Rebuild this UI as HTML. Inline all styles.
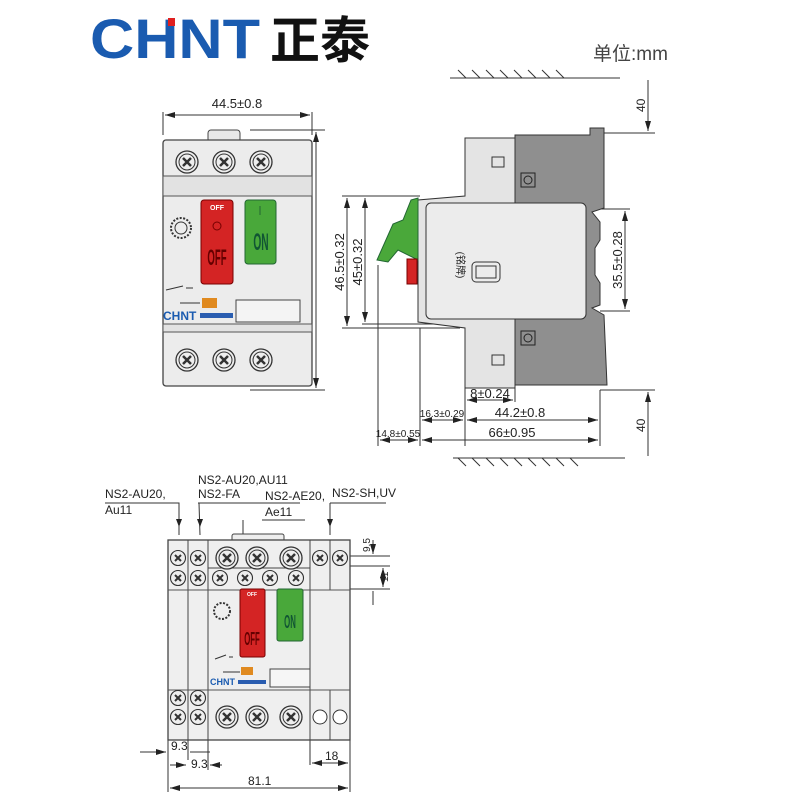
<!DOCTYPE html>
<html><head><meta charset="utf-8"><style>
body{margin:0;background:#fff}
svg{display:block}
text{font-family:"Liberation Sans","Noto Sans CJK SC",sans-serif}
</style></head><body>
<svg width="800" height="800" viewBox="0 0 800 800" xmlns="http://www.w3.org/2000/svg">
<defs>
<marker id="a" markerWidth="10" markerHeight="6" refX="10" refY="3" orient="auto-start-reverse" markerUnits="userSpaceOnUse"><path d="M0,0 L10,3 L0,6z" fill="#222"/></marker>
<g id="scr"><circle r="11" fill="#eee" stroke="#333" stroke-width="1.3"/><circle r="8" fill="none" stroke="#333"/><path d="M-4,-4 L4,4 M-4,4 L4,-4" stroke="#333" stroke-width="2.5"/></g>
<g id="ss"><circle r="7.5" fill="#eee" stroke="#333" stroke-width="1.1"/><path d="M-3,-3 L3,3 M-3,3 L3,-3" stroke="#333" stroke-width="2"/></g>
</defs>
<!-- logo -->
<text x="90" y="58" font-size="56" font-weight="bold" fill="#1a5bb0" textLength="170" lengthAdjust="spacingAndGlyphs">CHNT</text>
<rect x="168" y="18" width="7" height="8" fill="#e02020"/>
<text x="270" y="58" font-size="50" font-weight="bold" fill="#111" font-family="'Noto Sans CJK SC',sans-serif">正泰</text>
<text x="593" y="60" font-size="19" fill="#444">单位:mm</text>

<g stroke="#333" stroke-width="1" fill="none">
<!-- front view dims -->
<line x1="163" y1="112" x2="163" y2="135"/><line x1="312" y1="112" x2="312" y2="135"/>
<line x1="165" y1="115" x2="310" y2="115" marker-start="url(#a)" marker-end="url(#a)"/>
<line x1="250" y1="130" x2="325" y2="130"/><line x1="250" y1="390" x2="325" y2="390"/>
<line x1="316" y1="132" x2="316" y2="388" marker-start="url(#a)" marker-end="url(#a)"/>
</g>
<text x="237" y="108" font-size="13" text-anchor="middle" fill="#222">44.5±0.8</text>
<text transform="translate(308,260) rotate(-90)" font-size="13" text-anchor="middle" fill="#222">91.3±0.7</text>
<!-- front device -->
<rect x="208" y="130" width="32" height="12" rx="3" fill="#e8e8e8" stroke="#444"/>
<rect x="163" y="140" width="149" height="246" rx="3" fill="#ececec" stroke="#444" stroke-width="1.3"/>
<rect x="163" y="176" width="149" height="20" fill="#e2e2e2" stroke="#555"/>
<rect x="163" y="324" width="149" height="8" fill="#e2e2e2" stroke="#555"/>
<use href="#scr" x="187" y="162"/><use href="#scr" x="224" y="162"/><use href="#scr" x="261" y="162"/>
<use href="#scr" x="187" y="360"/><use href="#scr" x="224" y="360"/><use href="#scr" x="261" y="360"/>
<rect x="201" y="200" width="32" height="84" rx="3" fill="#d42424" stroke="#700"/>
<text x="217" y="210" font-size="7" font-weight="bold" fill="#fff" text-anchor="middle">OFF</text>
<circle cx="217" cy="226" r="4" fill="none" stroke="#700"/>
<text transform="translate(217,265) scale(0.6,1.4)" font-size="16" text-anchor="middle" fill="#600" font-weight="bold">OFF</text>
<rect x="245" y="200" width="31" height="64" rx="3" fill="#49a83a" stroke="#263"/>
<line x1="260" y1="206" x2="260" y2="215" stroke="#263"/>
<text transform="translate(261,250) scale(0.6,1.4)" font-size="17" text-anchor="middle" fill="#153" font-weight="bold">ON</text>
<circle cx="181" cy="228" r="10" fill="none" stroke="#333" stroke-dasharray="2,1.5" stroke-width="2"/>
<circle cx="181" cy="228" r="6" fill="none" stroke="#333"/>
<path d="M166,290 L183,286 M186,288 L193,288" stroke="#333" fill="none"/>
<path d="M180,303 L200,303" stroke="#333"/><rect x="202" y="298" width="15" height="10" fill="#e08a20"/>
<text x="163" y="320" font-size="12" font-weight="bold" fill="#1a5bb0">CHNT</text>
<rect x="200" y="313" width="33" height="5" fill="#2a5db0"/>
<rect x="236" y="300" width="64" height="22" fill="#f4f4f4" stroke="#444"/>

<!-- side view -->
<g stroke="#333" stroke-width="1" fill="none">
<line x1="450" y1="78" x2="620" y2="78"/>
<path d="M458,70 l8,8 M472,70 l8,8 M486,70 l8,8 M500,70 l8,8 M514,70 l8,8 M528,70 l8,8 M542,70 l8,8 M556,70 l8,8"/>
<line x1="453" y1="458" x2="625" y2="458"/>
<path d="M458,458 l8,8 M472,458 l8,8 M486,458 l8,8 M500,458 l8,8 M514,458 l8,8 M528,458 l8,8 M542,458 l8,8 M556,458 l8,8 M570,458 l8,8"/>
<line x1="600" y1="133" x2="655" y2="133"/><line x1="600" y1="390" x2="655" y2="390"/>
<line x1="648" y1="80" x2="648" y2="131" marker-end="url(#a)"/>
<line x1="648" y1="392" x2="648" y2="456" marker-start="url(#a)"/>
<line x1="600" y1="209" x2="630" y2="209"/><line x1="600" y1="311" x2="630" y2="311"/>
<line x1="625" y1="211" x2="625" y2="309" marker-start="url(#a)" marker-end="url(#a)"/>
<line x1="342" y1="196" x2="420" y2="196"/><line x1="342" y1="328" x2="460" y2="328"/><line x1="362" y1="324" x2="440" y2="324"/>
<line x1="347" y1="198" x2="347" y2="326" marker-start="url(#a)" marker-end="url(#a)"/>
<line x1="365" y1="198" x2="365" y2="322" marker-start="url(#a)" marker-end="url(#a)"/>
<line x1="378" y1="265" x2="378" y2="446"/><line x1="420" y1="328" x2="420" y2="446"/>
<line x1="465" y1="330" x2="465" y2="446"/><line x1="515" y1="380" x2="515" y2="402"/><line x1="600" y1="390" x2="600" y2="446"/>
<line x1="467" y1="400" x2="513" y2="400" marker-start="url(#a)" marker-end="url(#a)"/>
<line x1="422" y1="420" x2="463" y2="420" marker-start="url(#a)" marker-end="url(#a)"/>
<line x1="467" y1="420" x2="598" y2="420" marker-start="url(#a)" marker-end="url(#a)"/>
<line x1="380" y1="440" x2="418" y2="440" marker-start="url(#a)" marker-end="url(#a)"/>
<line x1="422" y1="440" x2="598" y2="440" marker-start="url(#a)" marker-end="url(#a)"/>
</g>
<text x="645" y="112" font-size="12" fill="#222" transform="rotate(-90,645,112)">40</text>
<text x="645" y="432" font-size="12" fill="#222" transform="rotate(-90,645,432)">40</text>
<text transform="translate(622,260) rotate(-90)" font-size="13" text-anchor="middle" fill="#222">35.5±0.28</text>
<text transform="translate(344,262) rotate(-90)" font-size="13" text-anchor="middle" fill="#222">46.5±0.32</text>
<text transform="translate(362,262) rotate(-90)" font-size="13" text-anchor="middle" fill="#222">45±0.32</text>
<text x="490" y="398" font-size="13" text-anchor="middle" fill="#222">8±0.24</text>
<text x="442" y="417" font-size="10" text-anchor="middle" fill="#222">16.3±0.29</text>
<text x="520" y="417" font-size="13" text-anchor="middle" fill="#222">44.2±0.8</text>
<text x="398" y="437" font-size="10" text-anchor="middle" fill="#222">14.8±0.55</text>
<text x="512" y="437" font-size="13" text-anchor="middle" fill="#222">66±0.95</text>
<!-- side device -->
<path d="M515,135 L590,135 L590,128 L604,128 L604,208 L592,212 L600,222 L600,240 L595,248 L595,275 L600,283 L600,305 L592,308 L604,315 L607,385 L515,385z" fill="#8f8f8f" stroke="#333"/>
<path d="M465,138 L515,138 L515,388 L465,388 L465,328 L418,322 L418,200 L465,196z" fill="#e4e4e4" stroke="#333"/>
<rect x="426" y="203" width="160" height="116" rx="5" fill="#ececec" stroke="#333"/>
<rect x="472" y="262" width="28" height="20" rx="4" fill="none" stroke="#333"/><rect x="476" y="266" width="20" height="12" fill="none" stroke="#333"/>
<text transform="translate(457,265) rotate(90)" font-size="10" text-anchor="middle" fill="#222">(铭牌)</text>
<rect x="492" y="157" width="12" height="10" fill="none" stroke="#333"/><rect x="492" y="355" width="12" height="10" fill="none" stroke="#333"/>
<rect x="521" y="173" width="14" height="14" fill="none" stroke="#222"/><circle cx="528" cy="180" r="4" fill="none" stroke="#222"/>
<rect x="521" y="331" width="14" height="14" fill="none" stroke="#222"/><circle cx="528" cy="338" r="4" fill="none" stroke="#222"/>
<path d="M411,200 L418,198 L418,260 L398,250 L388,262 L377,260 L393,224 L403,220z" fill="#4aa83a" stroke="#263"/>
<rect x="407" y="259" width="10" height="25" fill="#d42424" stroke="#700"/>

<!-- bottom view -->
<g stroke="#333" stroke-width="1" fill="none">
<path d="M105,503 L179,503 L179,535 M199,503 L200,535 M198,503 L300,503 M262,520 L305,520 M243,520 L243,555 M330,503 L386,503 M330,503 L330,535 M330,560 L330,588"/>
<line x1="350" y1="556" x2="390" y2="556"/><line x1="350" y1="566" x2="390" y2="566"/><line x1="350" y1="589" x2="390" y2="589"/>
<line x1="373" y1="540" x2="373" y2="554" marker-end="url(#a)"/>
<line x1="383" y1="568" x2="383" y2="587" marker-start="url(#a)" marker-end="url(#a)"/>
<line x1="373" y1="591" x2="373" y2="605"/>
<line x1="168" y1="740" x2="168" y2="792"/><line x1="188" y1="740" x2="188" y2="760"/><line x1="208" y1="740" x2="208" y2="770"/>
<line x1="310" y1="740" x2="310" y2="765"/><line x1="350" y1="740" x2="350" y2="792"/>
<line x1="140" y1="752" x2="166" y2="752" marker-end="url(#a)"/><line x1="190" y1="752" x2="210" y2="752"/>
<line x1="170" y1="765" x2="186" y2="765" marker-end="url(#a)"/><line x1="210" y1="765" x2="222" y2="765" marker-start="url(#a)"/>
<line x1="312" y1="763" x2="348" y2="763" marker-start="url(#a)" marker-end="url(#a)"/>
<line x1="170" y1="788" x2="348" y2="788" marker-start="url(#a)" marker-end="url(#a)"/>
</g>
<path d="M179,527 l-3,-8 h6z M200,527 l-3,-8 h6z M330,527 l-3,-8 h6z M243,555 l-3,-8 h6z" fill="#222"/>
<text x="105" y="498" font-size="12" fill="#222">NS2-AU20,</text><text x="105" y="514" font-size="12" fill="#222">Au11</text>
<text x="198" y="484" font-size="12" fill="#222">NS2-AU20,AU11</text><text x="198" y="498" font-size="12" fill="#222">NS2-FA</text>
<text x="265" y="500" font-size="12" fill="#222">NS2-AE20,</text><text x="265" y="516" font-size="12" fill="#222">Ae11</text>
<text x="332" y="497" font-size="12" fill="#222">NS2-SH,UV</text>
<text transform="translate(370,552) rotate(-90)" font-size="10" fill="#222">9.5</text>
<text transform="translate(388,582) rotate(-90)" font-size="10" fill="#222">11</text>
<text x="171" y="750" font-size="12" fill="#222">9.3</text><text x="191" y="768" font-size="12" fill="#222">9.3</text>
<text x="325" y="760" font-size="12" fill="#222">18</text><text x="248" y="785" font-size="12" fill="#222">81.1</text>
<!-- bottom device -->
<rect x="232" y="534" width="52" height="8" rx="2" fill="#eee" stroke="#444"/>
<rect x="168" y="540" width="182" height="200" fill="#efefef" stroke="#444" stroke-width="1.3"/>
<line x1="188" y1="540" x2="188" y2="740" stroke="#444"/><line x1="208" y1="540" x2="208" y2="740" stroke="#444"/>
<line x1="310" y1="540" x2="310" y2="740" stroke="#444"/><line x1="330" y1="540" x2="330" y2="590" stroke="#444"/><line x1="330" y1="690" x2="330" y2="740" stroke="#444"/>
<line x1="208" y1="568" x2="310" y2="568" stroke="#444"/><line x1="168" y1="590" x2="350" y2="590" stroke="#555"/>
<line x1="168" y1="690" x2="350" y2="690" stroke="#555"/>
<use href="#ss" x="178" y="558"/><use href="#ss" x="198" y="558"/><use href="#ss" x="178" y="578"/><use href="#ss" x="198" y="578"/>
<use href="#ss" x="320" y="558"/><use href="#ss" x="340" y="558"/>
<use href="#ss" x="220" y="578"/><use href="#ss" x="245" y="578"/><use href="#ss" x="270" y="578"/><use href="#ss" x="296" y="578"/>
<use href="#scr" x="227" y="558"/><use href="#scr" x="257" y="558"/><use href="#scr" x="291" y="558"/>
<use href="#ss" x="178" y="698"/><use href="#ss" x="198" y="698"/><use href="#ss" x="178" y="717"/><use href="#ss" x="198" y="717"/>
<use href="#scr" x="227" y="717"/><use href="#scr" x="257" y="717"/><use href="#scr" x="291" y="717"/>
<circle cx="320" cy="717" r="7" fill="#fff" stroke="#333"/><circle cx="340" cy="717" r="7" fill="#fff" stroke="#333"/>
<rect x="240" y="589" width="25" height="68" rx="2" fill="#d42424" stroke="#700"/>
<text x="252" y="596" font-size="5" font-weight="bold" fill="#fff" text-anchor="middle">OFF</text>
<text transform="translate(252,645) scale(0.6,1.4)" font-size="13" text-anchor="middle" fill="#600" font-weight="bold">OFF</text>
<rect x="277" y="589" width="26" height="52" rx="2" fill="#49a83a" stroke="#263"/>
<text transform="translate(290,628) scale(0.6,1.4)" font-size="13" text-anchor="middle" fill="#153" font-weight="bold">ON</text>
<circle cx="222" cy="611" r="8" fill="none" stroke="#333" stroke-dasharray="2,1.5" stroke-width="2"/>
<path d="M215,659 L226,655 M229,657 L233,657 M223,672 L240,672" stroke="#333"/><rect x="241" y="667" width="12" height="8" fill="#e08a20"/>
<text x="210" y="685" font-size="9" font-weight="bold" fill="#1a5bb0">CHNT</text><rect x="238" y="680" width="28" height="4" fill="#2a5db0"/>
<rect x="270" y="669" width="40" height="18" fill="#f6f6f6" stroke="#444"/>
</svg>
</body></html>
